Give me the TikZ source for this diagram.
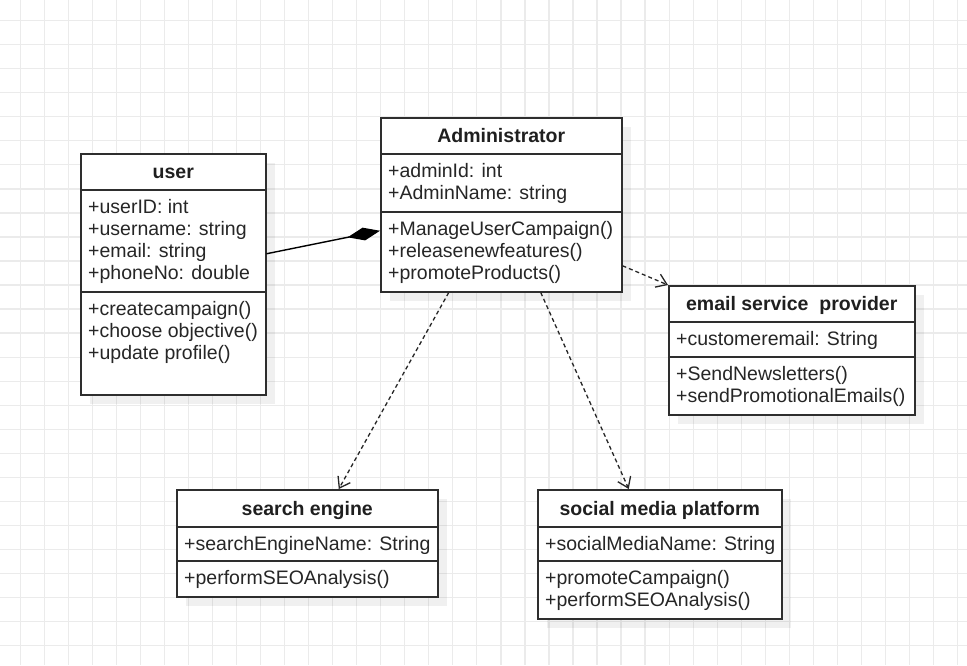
\documentclass[tikz,border=0pt]{standalone}
\usepackage{fontspec}
\setmainfont{Liberation Sans}
\usetikzlibrary{arrows.meta,shadows}

\tikzset{
  gridline/.style={draw=black!8, line width=1.2pt},
  classbox/.style={draw=black!82, line width=1.5pt, fill=white, anchor=north west, inner sep=0,
    drop shadow={shadow xshift=9pt, shadow yshift=-9pt, fill=black, opacity=0.06}},
  classline/.style={draw=black!82, line width=1.5pt},
  classtitle/.style={font=\bfseries\fontsize{19.5}{22}\selectfont, text=black!88, anchor=base, inner sep=0},
  members/.style={font=\fontsize{19.5}{22}\selectfont, text=black!85, anchor=north west, align=left, inner sep=0},
  composition/.style={draw=black, line width=1.4pt, -{Diamond[length=33pt,width=13pt]}},
  dependency/.style={draw=black!85, line width=1.3pt, dash pattern=on 4pt off 3pt, -{Straight Barb[length=10pt,width=14pt]}}
}

\newcommand\umlclass[9]{%
  \node[classbox, minimum width=#3, minimum height=#4] (#1) at (#2) {};
  \draw[classline] ([yshift=-#5]#1.north west) -- ([yshift=-#5]#1.north east);
  \draw[classline] ([yshift=-#6]#1.north west) -- ([yshift=-#6]#1.north east);
  \node[classtitle] at ([yshift=-#5/2-7]#1.north) {#7};
  \node[members] at ([xshift=8, yshift=-#5-8]#1.north west) {\strut#8};
  \node[members] at ([xshift=8, yshift=-#6-8]#1.north west) {\strut#9};
}

\begin{document}
\begin{tikzpicture}[x=1pt, y=-1pt]
  \useasboundingbox (0,0) rectangle (967,665);
  \fill[white] (0,0) rectangle (967,665);
  \foreach \i in {0,...,39}
    \draw[gridline] ({20.3+24.03*\i},0) -- ({20.3+24.03*\i},665);
  \foreach \i in {0,...,26}
    \draw[gridline] (0,{20.7+24.03*\i}) -- (967,{20.7+24.03*\i});

  \umlclass{user}{80,153}{185}{241}{37}{139}{user}
    {+userID: int\\+username: string\\+email: string\\+phoneNo: double}
    {+createcampaign()\\+choose objective()\\+update profile()}
  \umlclass{admin}{380,117}{241}{174}{37}{95}{Administrator}
    {+adminId: int\\+AdminName: string}
    {+ManageUserCampaign()\\+releasenewfeatures()\\+promoteProducts()}
  \umlclass{email}{668,285}{246}{129}{37}{72}{email service~ provider}
    {+customeremail: String}
    {+SendNewsletters()\\+sendPromotionalEmails()}
  \umlclass{search}{176,489}{261}{107}{38}{72}{search engine}
    {+searchEngineName: String}
    {+performSEOAnalysis()}
  \umlclass{social}{537,489}{244}{129}{38}{72}{social media platform}
    {+socialMediaName: String}
    {+promoteCampaign()\\+performSEOAnalysis()}

  \draw[composition] ([yshift=20.5]user.east) -- ([yshift=-26]admin.west);
  \draw[dependency] ([yshift=-61]admin.east) -- (email.north west);
  \draw[dependency] ([xshift=-52.5]admin.south) -- ([xshift=31.5]search.north);
  \draw[dependency] ([xshift=39.5]admin.south) -- ([xshift=-31]social.north);
\end{tikzpicture}
\end{document}
